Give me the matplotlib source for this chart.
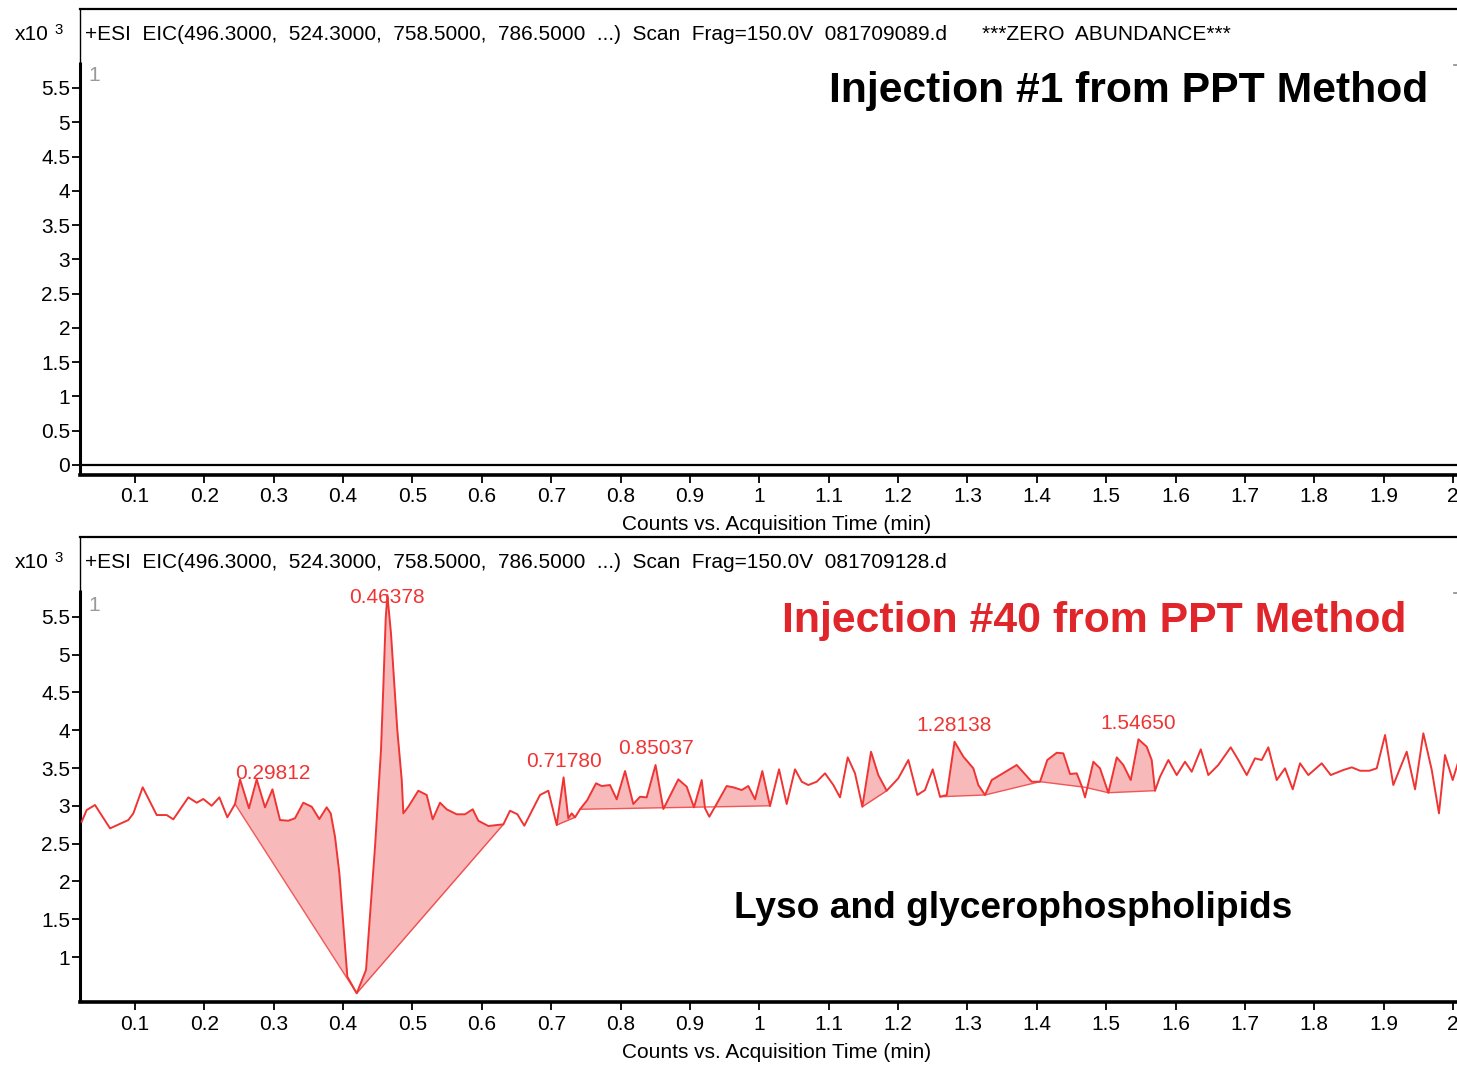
import numpy as np
import matplotlib
matplotlib.use("Agg")
import matplotlib.pyplot as plt

W, H, DPI = 1457, 1066, 100

# EIC trace of injection #40: acquisition time (min) and counts (x10^3)
time_40 = [
    0.0231, 0.0303, 0.0423, 0.0640, 0.0904, 0.0976, 0.1111, 0.1313, 0.1457, 0.1552,
    0.1769, 0.1889, 0.1985, 0.2105, 0.2216, 0.2331, 0.2442, 0.2514, 0.2643, 0.2754,
    0.2874, 0.29812, 0.3090, 0.3210, 0.3306, 0.3426, 0.3547, 0.3657, 0.3763, 0.3821,
    0.3883, 0.3946, 0.4061, 0.4196, 0.4330, 0.4460, 0.4546, 0.4580, 0.4614, 0.46378,
    0.4690, 0.4724, 0.4781, 0.4845, 0.4868, 0.4940, 0.5084, 0.5205, 0.5291, 0.5397,
    0.5493, 0.5637, 0.5757, 0.5868, 0.5949, 0.6093, 0.6310, 0.6406, 0.6512, 0.6612,
    0.6838, 0.6958, 0.7079, 0.71780, 0.7246, 0.7295, 0.7343, 0.7415, 0.7520, 0.7646,
    0.7727, 0.7847, 0.7944, 0.8064, 0.8183, 0.8280, 0.8376, 0.85037, 0.8616, 0.8832,
    0.8953, 0.9058, 0.9169, 0.9217, 0.9279, 0.9361, 0.9529, 0.9625, 0.9746, 0.9841,
    0.9938, 1.0043, 1.0154, 1.0284, 1.0394, 1.0514, 1.0611, 1.0706, 1.0827, 1.0947,
    1.1067, 1.1163, 1.1274, 1.1379, 1.1485, 1.1610, 1.1715, 1.1836, 1.2003, 1.2148,
    1.2277, 1.2388, 1.2499, 1.2605, 1.2701, 1.28138, 1.2941, 1.3085, 1.3157, 1.3253,
    1.3350, 1.3469, 1.3710, 1.3926, 1.4046, 1.4151, 1.4287, 1.4382, 1.4479, 1.4575,
    1.4647, 1.4695, 1.4815, 1.4911, 1.5031, 1.5152, 1.5247, 1.5354, 1.54650, 1.5584,
    1.5656, 1.5704, 1.5776, 1.5896, 1.6017, 1.6136, 1.6233, 1.6363, 1.6472, 1.6616,
    1.6795, 1.6905, 1.7026, 1.7145, 1.7242, 1.7337, 1.7458, 1.7578, 1.7689, 1.7794,
    1.7914, 1.8107, 1.8237, 1.8419, 1.8540, 1.8660, 1.8793, 1.8900, 1.9020, 1.9139,
    1.9332, 1.9452, 1.9572, 1.9693, 1.9797, 1.9884, 1.9995, 2.0076,
]
counts_40 = [
    2.790, 2.944, 3.011, 2.702, 2.812, 2.900, 3.245, 2.878, 2.878, 2.821,
    3.112, 3.041, 3.090, 3.001, 3.112, 2.848, 3.024, 3.350, 2.967, 3.350,
    2.980, 3.218, 2.812, 2.803, 2.835, 3.041, 2.988, 2.825, 2.980, 2.900,
    2.591, 2.107, 0.740, 0.520, 0.828, 2.459, 3.738, 4.585, 5.480, 5.788,
    5.281, 4.796, 4.003, 3.341, 2.900, 2.988, 3.200, 3.143, 2.821, 3.041,
    2.954, 2.888, 2.888, 2.954, 2.803, 2.733, 2.755, 2.935, 2.888, 2.737,
    3.143, 3.200, 2.746, 3.377, 2.835, 2.900, 2.848, 2.954, 3.077, 3.298,
    3.262, 3.275, 3.086, 3.460, 3.024, 3.120, 3.112, 3.540, 2.958, 3.350,
    3.253, 2.980, 3.341, 2.967, 2.856, 2.988, 3.262, 3.245, 3.209, 3.262,
    3.086, 3.460, 2.997, 3.483, 3.024, 3.483, 3.319, 3.275, 3.319, 3.430,
    3.275, 3.112, 3.641, 3.430, 2.988, 3.716, 3.407, 3.200, 3.364, 3.606,
    3.143, 3.209, 3.483, 3.120, 3.143, 3.848, 3.650, 3.496, 3.275, 3.143,
    3.341, 3.407, 3.540, 3.319, 3.319, 3.606, 3.702, 3.694, 3.421, 3.430,
    3.262, 3.112, 3.583, 3.496, 3.173, 3.641, 3.540, 3.341, 3.880, 3.782,
    3.606, 3.200, 3.385, 3.606, 3.407, 3.583, 3.451, 3.747, 3.407, 3.540,
    3.774, 3.606, 3.407, 3.628, 3.606, 3.774, 3.341, 3.496, 3.218, 3.562,
    3.407, 3.562, 3.407, 3.474, 3.509, 3.464, 3.464, 3.496, 3.937, 3.275,
    3.716, 3.218, 3.959, 3.474, 2.900, 3.672, 3.341, 3.583,
]

# Integrated peaks: retention times that get a label
peak_times = [0.29812, 0.46378, 0.71780, 0.85037, 1.28138, 1.54650]

# Integration baselines (time, counts) for the shaded peak areas
baseline_times = [
    [0.2442, 0.4196, 0.6310],
    [0.7079, 0.7343],
    [0.7415, 1.0154],
    [1.1485, 1.1836],
    [1.2605, 1.3253, 1.4046, 1.4695, 1.5031, 1.5704],
]
baseline_counts = [
    [3.024, 0.520, 2.755],
    [2.746, 2.848],
    [2.954, 3.000],
    [2.988, 3.200],
    [3.120, 3.143, 3.319, 3.245, 3.173, 3.200],
]

x_ticks = [0.1, 0.2, 0.3, 0.4, 0.5, 0.6, 0.7, 0.8, 0.9, 1.0,
           1.1, 1.2, 1.3, 1.4, 1.5, 1.6, 1.7, 1.8, 1.9, 2.0]
x_tick_labels = ["0.1", "0.2", "0.3", "0.4", "0.5", "0.6", "0.7", "0.8", "0.9", "1",
                 "1.1", "1.2", "1.3", "1.4", "1.5", "1.6", "1.7", "1.8", "1.9", "2"]
y_ticks_top = [0, 0.5, 1, 1.5, 2, 2.5, 3, 3.5, 4, 4.5, 5, 5.5]
y_ticks_bottom = [1, 1.5, 2, 2.5, 3, 3.5, 4, 4.5, 5, 5.5]

header_common = "+ESI  EIC(496.3000,  524.3000,  758.5000,  786.5000  ...)  Scan  Frag=150.0V  "
file_top = "081709089.d"
file_bottom = "081709128.d"
zero_note = "***ZERO  ABUNDANCE***"
x_label = "Counts vs. Acquisition Time (min)"

TRACE = "#f03434"
FILL = "#f7b9b9"
TITLE_RED = "#e0262b"
SMALL = ["Liberation Sans", "DejaVu Sans"]
BIG = ["Liberation Sans", "DejaVu Sans"]
FS = 15

fig = plt.figure(figsize=(W / DPI, H / DPI), dpi=DPI)


def fx(px):
    return px / W


def fy(py):
    return 1 - py / H


def ytick_fmt(v):
    return f"{v:g}"


def make_axes(top_px, bottom_px, ylim, yticks, marker_y):
    ax = fig.add_axes([fx(80), fy(bottom_px), 1 - fx(80), fy(top_px) - fy(bottom_px)])
    ax.set_xlim(0.0207, 2.0057)
    ax.set_ylim(*ylim)
    ax.set_xticks(x_ticks)
    ax.set_xticklabels(x_tick_labels, family=SMALL)
    ax.set_yticks(yticks)
    ax.set_yticklabels([ytick_fmt(v) for v in yticks], family=SMALL)
    ax.spines["right"].set_visible(False)
    ax.spines["top"].set_linewidth(1.6)
    ax.spines["left"].set_linewidth(1.0)
    ax.spines["bottom"].set_linewidth(2.6)
    ax.tick_params(axis="x", direction="out", length=6, width=1.3, pad=3,
                   labelsize=FS, colors="black")
    ax.tick_params(axis="y", direction="out", length=6, width=1.3, pad=1,
                   labelsize=FS, colors="black")
    # heavier plotting-area edge below the scale marker
    ax.plot([0, 0], [ylim[0], marker_y], transform=ax.get_yaxis_transform(),
            color="black", lw=2.2, clip_on=False, solid_capstyle="butt")
    ax.text(0.006, marker_y - 0.2, "1", transform=ax.get_yaxis_transform(),
            color="#9a9a9a", fontsize=FS, family=SMALL, ha="left", va="center")
    # small scale mark at the right edge
    ax.plot([0.9975, 1.0], [marker_y - 0.04] * 2, transform=ax.get_yaxis_transform(),
            color="#8a8a8a", lw=1.2, clip_on=False)
    return ax


ax_top = make_axes(9, 475, (-0.146, 6.652), y_ticks_top, 5.88)
ax_bot = make_axes(537, 1002, (0.405, 6.556), y_ticks_bottom, 5.85)

# Injection #1: flat trace at zero abundance
ax_top.axhline(0, color="black", lw=1.6)

# Injection #40: shaded integrated peaks, baselines and trace
t = np.array(time_40)
c = np.array(counts_40)
for bt, bc in zip(baseline_times, baseline_counts):
    inside = (t >= bt[0]) & (t <= bt[-1])
    ts, cs = t[inside], c[inside]
    base = np.interp(ts, bt, bc)
    ax_bot.fill_between(ts, cs, base, where=cs >= base, interpolate=True,
                        color=FILL, lw=0, zorder=1)
    ax_bot.plot(bt, bc, color=TRACE, lw=1.0, alpha=0.8, zorder=2)
ax_bot.plot(t, c, color=TRACE, lw=1.4, zorder=3)

for pt in peak_times:
    pc = float(np.interp(pt, t, c))
    ax_bot.text(pt, min(pc + 0.212, 5.76), f"{pt:.5f}", color=TRACE, fontsize=FS,
                family=SMALL, ha="center", va="center", zorder=4)

# Headers and scale factor
for y_px, fname, extra in [(34, file_top, zero_note), (562, file_bottom, None)]:
    fig.text(fx(15), fy(y_px), "x10", fontsize=FS, family=SMALL, ha="left", va="center")
    fig.text(fx(54), fy(y_px - 4), "3", fontsize=FS * 0.72, family=SMALL,
             ha="left", va="center")
    fig.text(fx(85), fy(y_px), header_common + fname, fontsize=FS, family=SMALL,
             ha="left", va="center")
    if extra:
        fig.text(fx(982), fy(y_px), extra, fontsize=FS, family=SMALL,
                 ha="left", va="center")

for y_px in (525, 1053):
    fig.text(fx(777), fy(y_px), x_label, fontsize=FS, family=SMALL,
             ha="center", va="center")

fig.text(fx(1129), fy(91), "Injection #1 from PPT Method", fontsize=30.7,
         weight="bold", family=BIG, ha="center", va="center", color="black")
fig.text(fx(1094), fy(621), "Injection #40 from PPT Method", fontsize=30.8,
         weight="bold", family=BIG, ha="center", va="center", color=TITLE_RED)
fig.text(fx(1013), fy(908), "Lyso and glycerophospholipids", fontsize=26.7,
         weight="bold", family=BIG, ha="center", va="center", color="black")

fig.savefig("out.png", dpi=DPI, facecolor="white")
